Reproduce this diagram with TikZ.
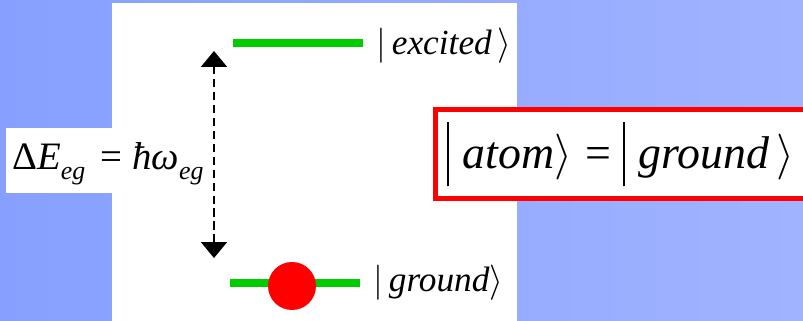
\RequirePackage{fix-cm}
\documentclass[tikz,border=0pt]{standalone}
\usepackage{fontspec}
\setmainfont{Liberation Serif}
\usetikzlibrary{positioning,arrows.meta}
\definecolor{slideblue}{HTML}{87A0FF}
\definecolor{slidebluelight}{HTML}{A0B3FF}
\definecolor{levelgreen}{HTML}{00CC00}
\definecolor{boxred}{HTML}{FF0000}
\newcommand{\ketof}[1]{$|$\,\textit{#1}$\rangle$}
\newcommand{\bigketof}[1]{\rule[-15pt]{1.3pt}{55pt}\hspace{0.3em}\textit{#1}$\bigr\rangle$}
\newcommand{\sub}[1]{\raisebox{-8pt}{\fontsize{22}{24}\selectfont\itshape #1}}

\begin{document}
\begin{tikzpicture}[
      x=0.85pt, y=0.85pt,
      node distance=11pt,
      every node/.style={font=\fontsize{30}{36}\selectfont, inner sep=0pt},
      level/.style={draw=levelgreen, line width=6pt},
      ket/.style={anchor=west},
      arrow/.style={
        {Triangle[width=22pt,length=13.5pt]}-{Triangle[width=22pt,length=13.5pt]},
        line width=1.7pt,
        dash pattern=on 7pt off 4pt
      },
      statebox/.style={
        draw=boxred,
        fill=white,
        line width=4.3pt,
        anchor=west,
        inner xsep=10pt,
        minimum height=75pt,
        text width=312pt,
        align=left,
        font=\fontsize{39}{46}\selectfont
      }
    ]
      \clip (0,0) rectangle (803,321);
      \shade[left color=slideblue, right color=slidebluelight] (0,0) rectangle (803,321);
      \fill[white] (112,0) rectangle (517,318);
      \node[fill=white, anchor=base west, inner xsep=5pt, text height=35.7pt, text depth=19.5pt,
            font=\fontsize{33}{36}\selectfont] (gap) at (6,151)
        {Δ\textit{E}\sub{eg}\hspace{0.4em}=\hspace{0.25em}\textit{ħω}\sub{eg}};
      \coordinate (e1) at (233,278);
      \coordinate (e2) at (363,278);
      \coordinate (g1) at (230,38);
      \coordinate (g2) at (360,38);
      \coordinate (top) at (214,270);
      \coordinate (bot) at (214,63);
      \draw[level] (e1) -- (e2);
      \draw[level] (g1) -- (g2);
      \node[circle, fill=boxred, minimum size=40.8pt] (atom) at (292,35) {};
      \node[ket, right=of e2, yshift=-2.5pt] (exc) {\ketof{excited\,}};
      \node[ket, right=of g2] (gnd) {\ketof{ground}};
      \draw[arrow] (bot) -- (top);
      \node[statebox] (state) at (433,167)
        {\bigketof{atom}\hspace{0.3em}=\hspace{0.25em}\bigketof{ground\hspace{0.15em}}};
    \end{tikzpicture}
\end{document}
